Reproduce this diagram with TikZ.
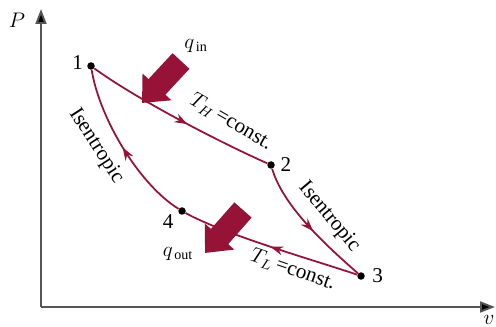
\documentclass[tikz,border=0pt]{standalone}
\usepackage{fontspec}
\setmainfont{Liberation Serif}
\usetikzlibrary{arrows.meta, positioning, decorations.markings}

\definecolor{cyclered}{RGB}{150,18,55}
\definecolor{axisgray}{RGB}{85,85,85}

\begin{document}
\begin{tikzpicture}[
    x=0.2mm, y=-0.2mm,
    >=Stealth,
    axis/.style={draw=axisgray, line width=1.1pt, -{Triangle[length=3mm, width=2.2mm, fill=black]}},
    dot/.style={circle, fill=black, inner sep=0pt, minimum size=1.5mm},
    num/.style={inner sep=1pt, font=\large},
    proc/.style={draw=cyclered, line width=1pt, postaction={decorate},
        decoration={markings, mark=at position #1 with {\arrow[cyclered]{Stealth[length=2.6mm, width=1.8mm]}}}},
    proc/.default=0.52,
    heat/.style={draw=cyclered, line width=4.6mm, -{Triangle[length=4.4mm, width=7.6mm]}},
    curvelabel/.style={inner sep=0pt, font=\large}
]
\useasboundingbox (0,0) rectangle (496,327);

% AXES
\coordinate (origin) at (41,307);
\coordinate (ptop) at (41,9);
\coordinate (vend) at (495,307);
\draw[axis] (origin) -- (ptop);
\draw[axis] (origin) -- (vend);
\node[font=\large] (plabel) at (17,20) {$P$};
\node[font=\large] (vlabel) at (489,320) {$v$};

% STATES
\node[dot] (s1) at (91,66) {};
\node[dot] (s2) at (271,165) {};
\node[dot] (s3) at (361,276) {};
\node[dot] (s4) at (182,211) {};
\node[num, left=1pt of s1, yshift=2pt] (n1) {1};
\node[num, right=2pt of s2] (n2) {2};
\node[num, right=3pt of s3] (n3) {3};
\node[num, below left=-1pt and 2pt of s4] (n4) {4};

% PROCESSES
\draw[proc=0.55] (s1) .. controls (135,98) and (215,140) .. (s2);
\draw[proc=0.55] (s2) .. controls (283,205) and (322,242) .. (s3);
\draw[proc=0.5] (s3) .. controls (320,262) and (225,235) .. (s4);
\draw[proc=0.5] (s4) .. controls (140,185) and (100,120) .. (s1);

\node[curvelabel, rotate=-30] (th) at (231,122) {$T_H$\,=const.};
\node[curvelabel, rotate=-50] (isr) at (329,217) {Isentropic};
\node[curvelabel, rotate=-19] (tl) at (293,270) {$T_L$\,=const.};
\node[curvelabel, rotate=-57] (isl) at (96,146) {Isentropic};

% HEAT TRANSFER
\coordinate (qin_s) at (181,61);
\coordinate (qin_e) at (142,103);
\draw[heat] (qin_s) -- (qin_e);
\node[font=\large] (qin) at (196,46) {$q_{\,\mathrm{in}}$};

\coordinate (qout_s) at (243,210);
\coordinate (qout_e) at (205,253);
\draw[heat] (qout_s) -- (qout_e);
\node[font=\large] (qout) at (178,254) {$q_{\,\mathrm{out}}$};

\end{tikzpicture}
\end{document}
